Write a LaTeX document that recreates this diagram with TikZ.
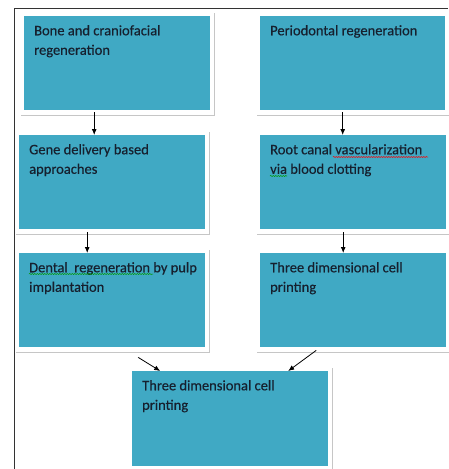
\documentclass[tikz,border=0pt]{standalone}
\usepackage{fontspec}
\setmainfont{Carlito}
\newfontfamily\boxfont{Carlito}[FakeBold=0.35]
\usetikzlibrary{decorations.pathmorphing, arrows.meta}
\definecolor{boxblue}{RGB}{64,169,196}
\definecolor{textnavy}{RGB}{22,32,46}
\tikzset{
  box/.style={fill=boxblue, anchor=north west, inner sep=0pt, minimum width=186pt, minimum height=94pt},
  txt/.style={anchor=north west, inner sep=0pt, align=left, text=textnavy, font=\boxfont\fontsize{14.5}{19.5}\selectfont},
  rim/.style={draw=gray!45, line width=1.2pt},
  arr/.style={-{Latex[length=6pt, width=5pt]}, line width=0.8pt},
  squig/.style={draw=#1, line width=0.5pt, decorate, decoration={snake, amplitude=0.6pt, segment length=2.5pt}}
}
\begin{document}
\begin{tikzpicture}[x=1pt, y=-1pt]
\useasboundingbox (0,0) rectangle (448,469);
% outer frame
\draw[black!80, line width=1pt] (14,469) -- (14,8) -- (448,8);

% boxes
\node[box] (bone) at (24,16) {}; % top left
\node[box, minimum width=185pt] (perio) at (260,16) {}; % top right
\node[box] (gene) at (19,135) {};
\node[box] (root) at (260,135) {};
\node[box] (pulp) at (19,253) {};
\node[box] (print) at (260,253) {};
\node[box, minimum width=196pt, minimum height=95pt] (cellprint) at (132,371) {}; % bottom

% rims under and right of the boxes
\foreach \n in {bone,perio,gene,root,pulp,print,cellprint}
  \draw[rim] ([shift={(-3,5)}]\n.south west) -- ([shift={(4,5)}]\n.south east) -- ([shift={(4,-3)}]\n.north east);

% texts
\node[txt] (boneT) at ([shift={(10,9)}]bone.north west) {Bone and craniofacial\\regeneration};
\node[txt] (perioT) at ([shift={(10,9)}]perio.north west) {Periodontal regeneration};
\node[txt] (geneT) at ([shift={(10,9)}]gene.north west) {Gene delivery based\\approaches};
\node[txt] (rootT) at ([shift={(10,9)}]root.north west) {Root canal vascularization\\via blood clotting};
\node[txt] (pulpT) at ([shift={(10,9)}]pulp.north west) {Dental\ \ regeneration by pulp\\implantation};
\node[txt] (printT) at ([shift={(10,9)}]print.north west) {Three dimensional cell\\printing};
\node[txt] (cellprintT) at ([shift={(10,9)}]cellprint.north west) {Three dimensional cell\\printing};

% spelling marks
\draw[squig=red] ([shift={(73,22)}]root.north west) -- ++(95,0);
\draw[squig=green!60!black] ([shift={(10,41)}]root.north west) -- ++(17,0);
\draw[squig=green!60!black] ([shift={(10,21)}]pulp.north west) -- ++(124,0);

% arrows
\coordinate (a1) at ([xshift=-23pt, yshift=-2pt]bone.south);
\coordinate (a2) at ([xshift=-10pt, yshift=-2pt]perio.south);
\coordinate (a3) at ([xshift=-25pt, yshift=-3pt]gene.south);
\coordinate (a4) at ([xshift=-10pt, yshift=-3pt]root.south);
\coordinate (a5) at ([xshift=26pt, yshift=-10pt]pulp.south);
\coordinate (a6) at ([xshift=-37pt, yshift=-3pt]print.south);
\draw[arr] (a1) -- (a1 |- gene.north);
\draw[arr] (a2) -- (a2 |- root.north);
\draw[arr] (a3) -- (a3 |- pulp.north);
\draw[arr] (a4) -- (a4 |- print.north);
\draw[arr] (a5) -- ([xshift=-70pt]cellprint.north);
\draw[arr] (a6) -- ([xshift=58pt]cellprint.north);
\end{tikzpicture}
\end{document}
